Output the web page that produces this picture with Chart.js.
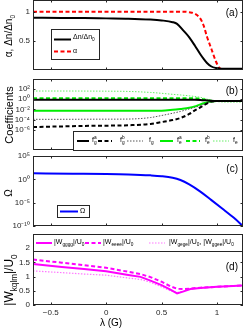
<!DOCTYPE html>
<html><head><meta charset="utf-8">
<script src="https://cdn.jsdelivr.net/npm/chart.js@4.4.0/dist/chart.umd.min.js"></script>
<style>
html,body{margin:0;padding:0;background:#fff;}
#wrap{position:relative;width:249px;height:328px;overflow:hidden;background:#fff;}
canvas{position:absolute;left:0;}
</style></head><body>
<div id="wrap">
<canvas id="ca" width="249" height="74" style="top:0px"></canvas>
<canvas id="cb" width="249" height="84" style="top:70px"></canvas>
<canvas id="cc" width="249" height="84" style="top:146px"></canvas>
<canvas id="cd" width="249" height="102" style="top:226px"></canvas>
</div>
<script>
// ---------------- data ----------------
const X_MIN = -0.66, X_MAX = 1.235;
const X_TICKS = [-0.5, 0, 0.5, 1];
const X_TICK_LABELS = ['\u22120.5', '0', '0.5', '1'];

// panel (a)
const LAM_A   = [-0.66, -0.4, -0.2, 0, 0.2, 0.4, 0.5, 0.6, 0.64, 0.7, 0.75, 0.8, 0.85, 0.88, 0.91, 0.95, 0.99, 1.02, 1.05, 1.1, 1.235];
const DN_A    = [0.897, 0.893, 0.89, 0.885, 0.88, 0.865, 0.85, 0.82, 0.79, 0.67, 0.56, 0.42, 0.27, 0.19, 0.12, 0.06, 0.035, 0.027, 0.022, 0.02, 0.02];
const ALPHA_A = [1, 1, 1, 1, 1, 1, 1, 1, 1, 1, 0.99, 0.965, 0.88, 0.76, 0.57, 0.36, 0.15, 0.04, 0.015, 0.01, 0.01];
const YT_A = [0.5, 1];

// panel (b)
const LAM_B = [-0.66, -0.4, -0.2, 0, 0.2, 0.4, 0.5, 0.6, 0.67, 0.75, 0.8, 0.85, 0.9, 0.95, 1.0, 1.1, 1.235];
const FG_A  = [0.83, 0.83, 0.83, 0.83, 0.83, 0.83, 0.83, 0.83, 0.83, 0.83, 0.83, 0.76, 0.63, 0.5, 0.457, 0.447, 0.447];
const FG_B  = [3.4e-6, 4.5e-6, 5.6e-6, 6.3e-6, 7.6e-6, 1.35e-5, 3.2e-5, 7.9e-5, 2.0e-4, 1.26e-3, 6.3e-3, 0.025, 0.112, 0.355, 0.437, 0.447, 0.447];
const GAM_G = [1.12e-4, 1.12e-4, 1.17e-4, 1.2e-4, 1.26e-4, 2.5e-4, 6.3e-4, 1.78e-3, 4.0e-3, 0.0126, 0.025, 0.056, 0.158, 0.355, 0.437, 0.447, 0.447];
const FE_A  = [5.6e-3, 5.6e-3, 5.6e-3, 5.6e-3, 5.6e-3, 5.6e-3, 5.6e-3, 8.3e-3, 0.0126, 0.022, 0.04, 0.1, 0.2, 0.355, 0.437, 0.447, 0.447];
const FE_B  = [1.55, 1.55, 1.55, 1.55, 1.55, 1.55, 1.55, 1.55, 1.55, 1.55, 1.55, 1.26, 0.79, 0.5, 0.447, 0.447, 0.447];
const GAM_E = [42.7, 42.7, 41.7, 39.8, 35.5, 22.4, 15.1, 9.5, 7.1, 4.8, 3.55, 2.4, 1.26, 0.56, 0.355, 0.28, 0.28];
const YT_B = [1e2, 1, 1e-2, 1e-4, 1e-6];

// panel (c)
const LAM_C = [-0.66, -0.3, 0, 0.2, 0.4, 0.5, 0.6, 0.67, 0.75, 0.85, 0.95, 1.05, 1.15, 1.235];
const OMEGA = [20, 16.6, 14.1, 11.2, 7.1, 4.8, 2.24, 0.72, 0.079, 2.3e-3, 3.5e-5, 5e-7, 6.3e-9, 1e-10];
const YT_C = [1e5, 1, 1e-5, 1e-10];

// panel (d)
const LAM_D  = [-0.66, -0.4, -0.2, 0, 0.2, 0.31, 0.4, 0.5, 0.58, 0.64, 0.7, 0.76, 0.85, 1.0, 1.1, 1.235];
const W_GGGG = [1.44, 1.34, 1.27, 1.19, 1.06, 0.99, 0.86, 0.70, 0.54, 0.41, 0.48, 0.56, 0.60, 0.64, 0.66, 0.69];
const W_EEEE = [1.60, 1.49, 1.40, 1.31, 1.17, 1.09, 0.98, 0.82, 0.66, 0.57, 0.56, 0.58, 0.61, 0.64, 0.66, 0.69];
const W_GEGE = [1.20, 1.14, 1.09, 1.05, 0.95, 0.90, 0.80, 0.64, 0.50, 0.44, 0.49, 0.56, 0.60, 0.64, 0.66, 0.69];
const YT_D = [0, 0.5, 1, 1.5, 2];

// ---------------- helpers ----------------
const AX = '#262626';
const FONT = '"Liberation Sans", Arial, Helvetica, sans-serif';
const SUP = {'0':'\u2070','1':'\u00b9','2':'\u00b2','3':'\u00b3','4':'\u2074','5':'\u2075','6':'\u2076','7':'\u2077','8':'\u2078','9':'\u2079','-':'\u207b'};
function logLabel(v) {
  const e = Math.round(Math.log10(v));
  return '10' + String(e).split('').map(c => SUP[c]).join('');
}
function pts(xs, ys) { return xs.map((x, i) => ({x, y: ys[i]})); }

function drawSegs(ctx, x, y, segs, s) {
  ctx.textBaseline = 'middle'; ctx.textAlign = 'left';
  for (const g of segs) {
    if (g.t !== undefined) {
      ctx.font = s + 'px ' + FONT; ctx.fillText(g.t, x, y); x += ctx.measureText(g.t).width;
    } else {
      const ss = s * 0.68; ctx.font = ss + 'px ' + FONT; let w = 0;
      if (g.p) { ctx.fillText(g.p, x, y - s * 0.38); w = ctx.measureText(g.p).width; }
      if (g.b) { ctx.fillText(g.b, x, y + s * 0.38); w = Math.max(w, ctx.measureText(g.b).width); }
      x += w;
    }
  }
  return x;
}
function segsWidth(ctx, segs, s) {
  let w = 0;
  for (const g of segs) {
    if (g.t !== undefined) { ctx.font = s + 'px ' + FONT; w += ctx.measureText(g.t).width; }
    else {
      ctx.font = (s * 0.68) + 'px ' + FONT;
      w += Math.max(g.p ? ctx.measureText(g.p).width : 0, g.b ? ctx.measureText(g.b).width : 0);
    }
  }
  return w;
}

const deco = {
  id: 'deco',
  afterDraw(chart, args, o) {
    const ctx = chart.ctx, a = chart.chartArea, off = o.top;
    const xs = chart.scales.x, ys = chart.scales.y;
    ctx.save();
    ctx.strokeStyle = AX; ctx.lineWidth = 1; ctx.setLineDash([]);
    const L = 2.5;
    ctx.beginPath();
    X_TICKS.forEach(v => {
      const px = Math.round(xs.getPixelForValue(v)) + 0.5;
      ctx.moveTo(px, a.top); ctx.lineTo(px, a.top + L);
      ctx.moveTo(px, a.bottom); ctx.lineTo(px, a.bottom - L);
    });
    ys.ticks.forEach(t => {
      const py = Math.round(ys.getPixelForValue(t.value)) + 0.5;
      ctx.moveTo(a.left, py); ctx.lineTo(a.left + L, py);
      ctx.moveTo(a.right, py); ctx.lineTo(a.right - L, py);
    });
    ctx.stroke();
    ctx.strokeRect(Math.round(a.left) + 0.5, Math.round(a.top) + 0.5, Math.round(a.right - a.left) - 1, Math.round(a.bottom - a.top) - 1);

    // legend
    if (o.legend) {
      const [bx, by, bw, bh] = o.legend.box;
      ctx.fillStyle = '#fff';
      ctx.fillRect(bx, by - off, bw, bh);
      ctx.strokeStyle = AX; ctx.lineWidth = 1;
      ctx.strokeRect(bx + 0.5, by - off + 0.5, bw - 1, bh - 1);
      o.legend.items.forEach(it => {
        const ds = chart.data.datasets[it.ds];
        ctx.save();
        ctx.strokeStyle = ds.borderColor; ctx.lineWidth = ds.borderWidth;
        ctx.setLineDash(ds.borderDash || []);
        ctx.beginPath(); ctx.moveTo(it.x1, it.y - off); ctx.lineTo(it.x2, it.y - off); ctx.stroke();
        ctx.restore();
        ctx.fillStyle = '#000';
        drawSegs(ctx, it.tx, it.ty - off, it.segs, o.legend.size);
      });
    }
    // panel label
    if (o.plab) {
      ctx.fillStyle = '#000'; ctx.font = o.plab.size + 'px ' + FONT;
      ctx.textAlign = 'right'; ctx.textBaseline = 'middle';
      ctx.fillText(o.plab.text, o.plab.x, o.plab.y - off);
    }
    // y-axis title
    if (o.ylab) {
      const w = segsWidth(ctx, o.ylab.segs, o.ylab.size);
      ctx.save();
      ctx.translate(o.ylab.x, o.ylab.y - off);
      ctx.rotate(-Math.PI / 2);
      ctx.fillStyle = '#000';
      drawSegs(ctx, -w / 2, 0, o.ylab.segs, o.ylab.size);
      ctx.restore();
    }
    // x-axis title
    if (o.xlab) {
      ctx.fillStyle = '#000';
      const w = segsWidth(ctx, o.xlab.segs, o.xlab.size);
      drawSegs(ctx, o.xlab.x - w / 2, o.xlab.y - off, o.xlab.segs, o.xlab.size);
    }
    ctx.restore();
  }
};

function yScale(type, min, max, ticks, fmt) {
  return {
    type, min, max,
    grid: {display: false, drawTicks: false},
    border: {display: false},
    ticks: {font: {family: FONT, size: 8}, color: '#262626', padding: 3, callback: fmt, autoSkip: false},
    afterBuildTicks: s => { s.ticks = ticks.map(v => ({value: v})); },
    afterFit: s => { s.width = 33; s.paddingTop = 0; s.paddingBottom = 0; }
  };
}
function xScale(show) {
  return {
    type: 'linear', min: X_MIN, max: X_MAX, display: show,
    grid: {display: false, drawTicks: false},
    border: {display: false},
    ticks: {font: {family: FONT, size: 8}, color: '#262626', padding: 3, autoSkip: false, maxRotation: 0,
      callback: v => { const i = X_TICKS.indexOf(v); return i >= 0 ? X_TICK_LABELS[i] : ''; }},
    afterBuildTicks: s => { s.ticks = X_TICKS.map(v => ({value: v})); },
    afterFit: s => { if (show) { s.height = 23; } s.paddingLeft = 0; s.paddingRight = 0; }
  };
}
function line(data, color, width, dash, mono) {
  return {data, borderColor: color, borderWidth: width, borderDash: dash || [], pointRadius: 0,
    fill: false, cubicInterpolationMode: mono ? 'monotone' : 'default', tension: 0};
}
function make(id, top, pad, datasets, yopts, showX, decoOpts) {
  decoOpts.top = top;
  return new Chart(document.getElementById(id), {
    type: 'line',
    data: {datasets},
    options: {
      responsive: false, animation: false, devicePixelRatio: 1,
      layout: {padding: pad, autoPadding: false},
      plugins: {legend: {display: false}, tooltip: {enabled: false}, deco: decoOpts},
      scales: {x: xScale(showX), y: yopts}
    },
    plugins: [deco]
  });
}

// ---------------- panel (a) ----------------
make('ca', 0, {top: 0, bottom: 4, left: 0, right: 6}, [
  line(pts(LAM_A, DN_A), '#000000', 2, [], true),
  line(pts(LAM_A, ALPHA_A), '#ff0000', 2, [4, 2.5], true)
], yScale('linear', 0, 1.2, YT_A, v => String(v)), false, {
  plab: {text: '(a)', x: 238, y: 13, size: 10},
  ylab: {segs: [{t: '\u03b1, \u0394n/\u0394n'}, {b: '0'}], x: 9, y: 36, size: 10},
  legend: {box: [51, 29, 49, 31], size: 7, items: [
    {ds: 0, x1: 54, x2: 71, y: 39.5, tx: 73, ty: 37, segs: [{t: '\u0394n/\u0394n'}, {b: '0'}]},
    {ds: 1, x1: 54, x2: 71, y: 51.5, tx: 73, ty: 51, segs: [{t: '\u03b1'}]}
  ]}
});

// ---------------- panel (b) ----------------
make('cb', 70, {top: 9, bottom: 4, left: 0, right: 6}, [
  line(pts(LAM_B, FG_A), '#000000', 2, [], true),
  line(pts(LAM_B, FG_B), '#000000', 2, [4, 2.5], true),
  line(pts(LAM_B, GAM_G), '#555555', 1, [1.5, 1.5], true),
  line(pts(LAM_B, FE_A), '#00ee00', 2, [], true),
  line(pts(LAM_B, FE_B), '#00ee00', 2, [4, 2.5], true),
  line(pts(LAM_B, GAM_E), '#66ee66', 1, [1.5, 1.5], true)
], yScale('logarithmic', 1e-10, 1e4, YT_B, logLabel), false, {
  plab: {text: '(b)', x: 238, y: 91, size: 10},
  ylab: {segs: [{t: 'Coefficients'}], x: 10, y: 115, size: 11},
  legend: {box: [73, 131, 170, 20], size: 7, items: [
    {ds: 0, x1: 77, x2: 89, y: 141, tx: 92, ty: 140, segs: [{t: 'f'}, {p: 'a', b: 'g'}]},
    {ds: 1, x1: 98, x2: 112, y: 141, tx: 120, ty: 140, segs: [{t: 'f'}, {p: 'b', b: 'g'}]},
    {ds: 2, x1: 127, x2: 143, y: 141, tx: 149, ty: 140, segs: [{t: 'f'}, {b: 'g'}]},
    {ds: 3, x1: 160, x2: 173, y: 141, tx: 177, ty: 140, segs: [{t: 'f'}, {p: 'a', b: 'e'}]},
    {ds: 4, x1: 186, x2: 200, y: 141, tx: 205, ty: 140, segs: [{t: 'f'}, {p: 'b', b: 'e'}]},
    {ds: 5, x1: 213, x2: 229, y: 141, tx: 233, ty: 140, segs: [{t: 'f'}, {b: 'e'}]}
  ]}
});

// ---------------- panel (c) ----------------
make('cc', 146, {top: 10, bottom: 4, left: 0, right: 6}, [
  line(pts(LAM_C, OMEGA), '#0000ff', 2, [], true)
], yScale('logarithmic', 1e-10, 1e5, YT_C, logLabel), false, {
  plab: {text: '(c)', x: 238, y: 169, size: 10},
  ylab: {segs: [{t: '\u03a9'}], x: 9, y: 193, size: 10},
  legend: {box: [57, 205, 33, 13], size: 7, items: [
    {ds: 0, x1: 60, x2: 78, y: 211.5, tx: 80, ty: 211.5, segs: [{t: '\u03a9'}]}
  ]}
});

// ---------------- panel (d) ----------------
make('cd', 226, {top: 8, bottom: 0, left: 0, right: 6}, [
  line(pts(LAM_D, W_GGGG), '#ff00ff', 2, [], false),
  line(pts(LAM_D, W_EEEE), '#ff00ff', 2, [4, 2.5], false),
  line(pts(LAM_D, W_GEGE), '#ff77ff', 1.2, [1.5, 1.5], false)
], yScale('linear', 0, 2.5, YT_D, v => String(v)), true, {
  plab: {text: '(d)', x: 238, y: 267.5, size: 10},
  ylab: {segs: [{t: '|W'}, {b: 'kqlm'}, {t: '|/U'}, {b: '0'}], x: 10, y: 280, size: 12},
  xlab: {segs: [{t: '\u03bb (G)'}], x: 111, y: 323, size: 10},
  legend: {box: [33, 234, 210, 18], size: 7, items: [
    {ds: 0, x1: 36, x2: 52, y: 243, tx: 54, ty: 242, segs: [{t: '|W'}, {b: 'gggg'}, {t: '|/U'}, {b: '0'}]},
    {ds: 1, x1: 85, x2: 101, y: 243, tx: 103, ty: 242, segs: [{t: '|W'}, {b: 'eeee'}, {t: '|/U'}, {b: '0'}]},
    {ds: 2, x1: 149, x2: 165, y: 243, tx: 169, ty: 242, segs: [{t: '|W'}, {b: 'gege'}, {t: '|/U'}, {b: '0'}, {t: ', |W'}, {b: 'ggee'}, {t: '|/U'}, {b: '0'}]}
  ]}
});
</script>
</body></html>
